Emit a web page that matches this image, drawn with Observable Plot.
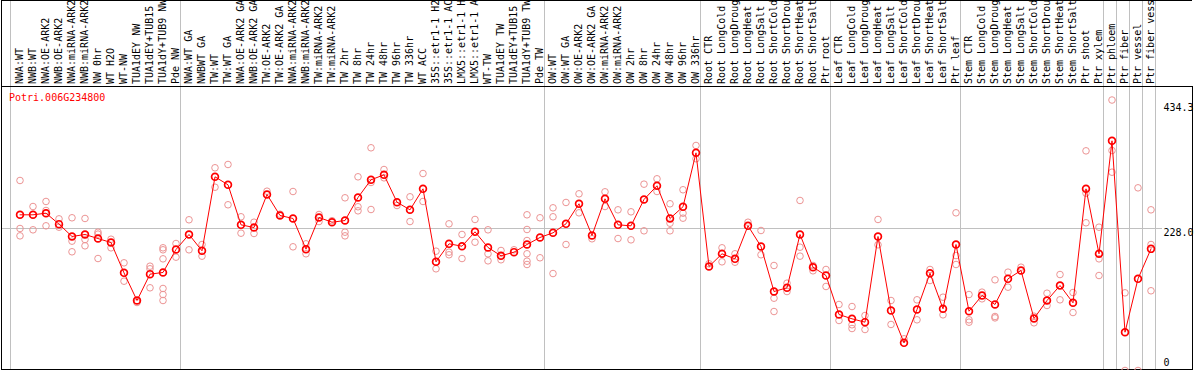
<!DOCTYPE html>
<html>
<head>
<meta charset="utf-8">
<script src="https://cdn.jsdelivr.net/npm/d3@7"></script>
<script src="https://cdn.jsdelivr.net/npm/@observablehq/plot@0.6"></script>
<style>
  html, body { margin: 0; padding: 0; background: white; }
  #chart svg { display: block; }
</style>
</head>
<body>
<div id="chart"></div>
<script>
const geneTitle = "Potri.006G234800";

const categories = [
  "NWA:WT", "NWB:WT", "NWA:OE-ARK2", "NWB:OE-ARK2", "NWA:miRNA-ARK2", "NWB:miRNA-ARK2",
  "NW 0hr", "WT H2O", "WT-NW", "TUA1dEY NW", "TUA1dEY+TUB15 NW", "TUA1dY+TUB9 NW", "Pde NW",
  "NWA:WT GA", "NWBWT GA", "TW:WT", "TW:WT GA", "NWA:OE-ARK2 GA", "NWB:OE-ARK2 GA",
  "TW:OE-ARK2", "TW:OE-ARK2 GA", "NWA:miRNA-ARK2", "NWB:miRNA-ARK2", "TW:miRNA-ARK2",
  "TW:miRNA-ARK2", "TW 2hr", "TW 8hr", "TW 24hr", "TW 48hr", "TW 96hr", "TW 336hr",
  "WT ACC", "35S::etr1-1 H2O", "35S::etr1-1 ACC", "LMX5::etr1-1 H2O", "LMX5::etr1-1 ACC",
  "WT-TW", "TUA1dEY TW", "TUA1dEY+TUB15 TW", "TUA1dY+TUB9 TW", "Pde TW",
  "OW:WT", "OW:WT GA", "OW:OE-ARK2", "OW:OE-ARK2 GA", "OW:miRNA-ARK2", "OW:miRNA-ARK2",
  "OW 2hr", "OW 8hr", "OW 24hr", "OW 48hr", "OW 96hr", "OW 336hr",
  "Root CTR", "Root LongCold", "Root LongDrought", "Root LongHeat", "Root LongSalt",
  "Root ShortCold", "Root ShortDrought", "Root ShortHeat", "Root ShortSalt", "Ptr root",
  "Leaf CTR", "Leaf LongCold", "Leaf LongDrought", "Leaf LongHeat", "Leaf LongSalt",
  "Leaf ShortCold", "Leaf ShortDrought", "Leaf ShortHeat", "Leaf ShortSalt", "Ptr leaf",
  "Stem CTR", "Stem LongCold", "Stem LongDrought", "Stem LongHeat", "Stem LongSalt",
  "Stem ShortCold", "Stem ShortDrought", "Stem ShortHeat", "Stem ShortSalt", "Ptr shoot",
  "Ptr xylem", "Ptr phloem", "Ptr fiber", "Ptr vessel", "Ptr fiber vessel"
];

// last category index of each sample group (separator lines)
const groupEnds = [12, 40, 52, 62, 72, 83, 84, 85, 86, 87];

const means = [
  250.0, 250.0, 252.6, 235.0, 215.2, 218.4, 211.9, 205.5, 156.8, 112.4,
  154.7, 157.4, 194.3,
  218.4, 192.2, 311.0, 298.2, 233.9, 229.6, 282.6, 248.9, 244.1, 194.8,
  245.7, 238.1, 240.8, 277.8, 306.2, 314.2, 270.2,
  258.0, 291.7, 174.5, 203.4, 199.6, 222.7, 197.5, 184.2, 190.0, 202.3, 213.6,
  221.1, 235.5, 267.7, 216.8, 275.7, 233.9, 232.3, 274.6, 296.6, 244.1, 262.9, 349.5,
  167.0, 187.4, 179.3, 232.3, 199.1, 126.8, 132.8, 218.4, 165.9, 152.5,
  89.9, 83.0, 77.6, 215.2, 96.3, 44.4, 97.9, 156.2, 99.1, 202.3,
  95.2, 120.4, 106.0, 147.2, 160.6, 83.5, 112.4, 136.5, 108.7, 291.7, 187.4,
  368.8, 61.5, 147.2, 195.3
];

const replicates = [
  [305.1, 228.0, 216.2], [263.3, 225.9], [271.4, 256.9, 232.3], [243.5, 230.1],
  [245.2, 207.7, 190.6], [244.1, 210.3, 200.2], [222.1, 219.0, 179.8], [210.8, 197.0],
  [172.9, 143.4], [109.2], [167.5, 163.3, 132.8], [197.0, 193.8, 179.3, 131.7, 122.0, 112.4],
  [203.9, 182.0],
  [242.0, 193.8], [202.3, 183.6], [325.5, 294.3], [330.8, 266.1], [246.8, 220.5],
  [238.1, 220.0], [287.9], [251.0], [287.4, 198.6], [203.4, 187.4], [250.5, 239.2],
  [240.5], [277.3, 222.1, 216.2], [311.0, 262.9, 256.4], [357.6, 301.9, 258.5],
  [322.7, 309.4], [264.9], [278.9, 239.2], [316.3, 271.4], [191.6, 163.3],
  [235.5, 190.0, 185.8], [218.4, 179.8], [242.5, 206.0], [225.9, 187.4, 176.1],
  [192.7, 177.8], [193.8], [250.0, 226.4, 208.7, 187.4, 175.5, 170.2], [245.2, 181.0],
  [261.2, 246.8, 155.7], [269.8, 202.3], [283.7, 253.2], [211.5], [286.9, 263.3],
  [258.0, 211.9], [254.8, 209.8], [299.2, 224.3], [307.8, 287.4], [267.7, 236.5, 224.3],
  [290.2, 252.6, 244.6], [361.3, 340.0],
  [171.3], [197.0, 174.5], [187.4, 173.9], [238.1], [224.8, 185.8], [168.6, 116.1, 94.7],
  [140.2, 126.8], [273.0, 198.0, 183.6], [168.6, 160.1], [162.2, 134.9],
  [106.0, 80.3], [102.7, 73.4, 67.4], [88.3, 65.8], [242.5, 201.8], [112.4, 73.9],
  [50.9], [113.5, 81.4], [162.2, 144.5], [117.7, 89.4], [253.2, 184.6, 170.2],
  [122.0, 81.4, 77.6], [125.8, 115.1], [145.6, 86.7, 84.5], [157.9, 133.8], [165.9],
  [87.2, 76.6], [124.1, 104.4], [154.1, 113.5], [125.2, 93.1], [352.7, 284.7, 237.2],
  [230.1, 179.3, 152.5],
  [434.3, 353.2, 318.4], [124.7, 0], [293.3, 0], [258.0, 202.3, 128.0]
];

const yMaxValue = 434.3;
const yTickTop = ["434.3"];
const yTickMid = ["228.0"];
const yTickZero = ["0"];

// derived tables
const idx = d3.range(categories.length);
const yTop = yMaxValue * 1.05;
const meanRows = means.map((v, i) => ({i, v}));
const repRows = replicates.flatMap((vals, i) => vals.map(v => ({i, v})));
const labelRows = categories.map((name, i) => ({i, name}));

const chart = Plot.plot({
  width: 1194,
  height: 370,
  marginTop: 86,
  marginBottom: 0,
  marginLeft: 1,
  marginRight: 2,
  style: {fontFamily: "'DejaVu Sans Mono', monospace", fontSize: "10px", background: "white"},
  x: {type: "linear", domain: [0, categories.length - 1], range: [19.5, 1150.5], axis: null},
  y: {type: "linear", domain: [0, yTop], range: [370, 86], axis: null},
  marks: [
    Plot.ruleY([yTop / 2], {stroke: "#c0c0c0", insetRight: 30}),
    Plot.ruleX([0], {x: d => d, dx: -9.5, stroke: "#c0c0c0", insetTop: -86}),
    Plot.ruleX(groupEnds, {x: d => d, dx: 4.5, stroke: "#c0c0c0", insetTop: -86}),
    Plot.frame({stroke: "black", insetBottom: 1}),
    Plot.ruleX([0], {x: d => d, dx: -18.5, stroke: "black", insetTop: -86}),
    Plot.ruleY([yTop], {y: d => d, dy: -86, stroke: "black"}),
    Plot.text(labelRows, {
      x: "i", text: "name", frameAnchor: "top", dy: -2.5,
      rotate: -90, textAnchor: "start", lineAnchor: "middle", fill: "black"
    }),
    Plot.dot(repRows, {x: "i", y: "v", r: 3.3, stroke: "#ec9494", strokeWidth: 1, fill: "none"}),
    Plot.line(meanRows, {x: "i", y: "v", stroke: "#ff0000", strokeWidth: 1}),
    Plot.dot(meanRows, {x: "i", y: "v", r: 3.4, stroke: "#ff0000", strokeWidth: 1.7, fill: "none"}),
    Plot.text([geneTitle], {
      text: d => d, frameAnchor: "top-left", dx: 7.5, dy: 7.3,
      textAnchor: "start", lineAnchor: "top", fill: "#ff0000"
    }),
    Plot.text(yTickTop, {
      y: d => +d, text: d => d, frameAnchor: "right", dx: -29, dy: 3.5,
      textAnchor: "start", lineAnchor: "top", fill: "black"
    }),
    Plot.text(yTickMid, {
      y: d => +d, text: d => d, frameAnchor: "right", dx: -29, dy: 0.5,
      textAnchor: "start", lineAnchor: "top", fill: "black"
    }),
    Plot.text(yTickZero, {
      y: d => +d, text: d => d, frameAnchor: "right", dx: -29, dy: -5,
      textAnchor: "start", lineAnchor: "bottom", fill: "black"
    })
  ]
});
document.getElementById("chart").append(chart);
</script>
</body>
</html>
